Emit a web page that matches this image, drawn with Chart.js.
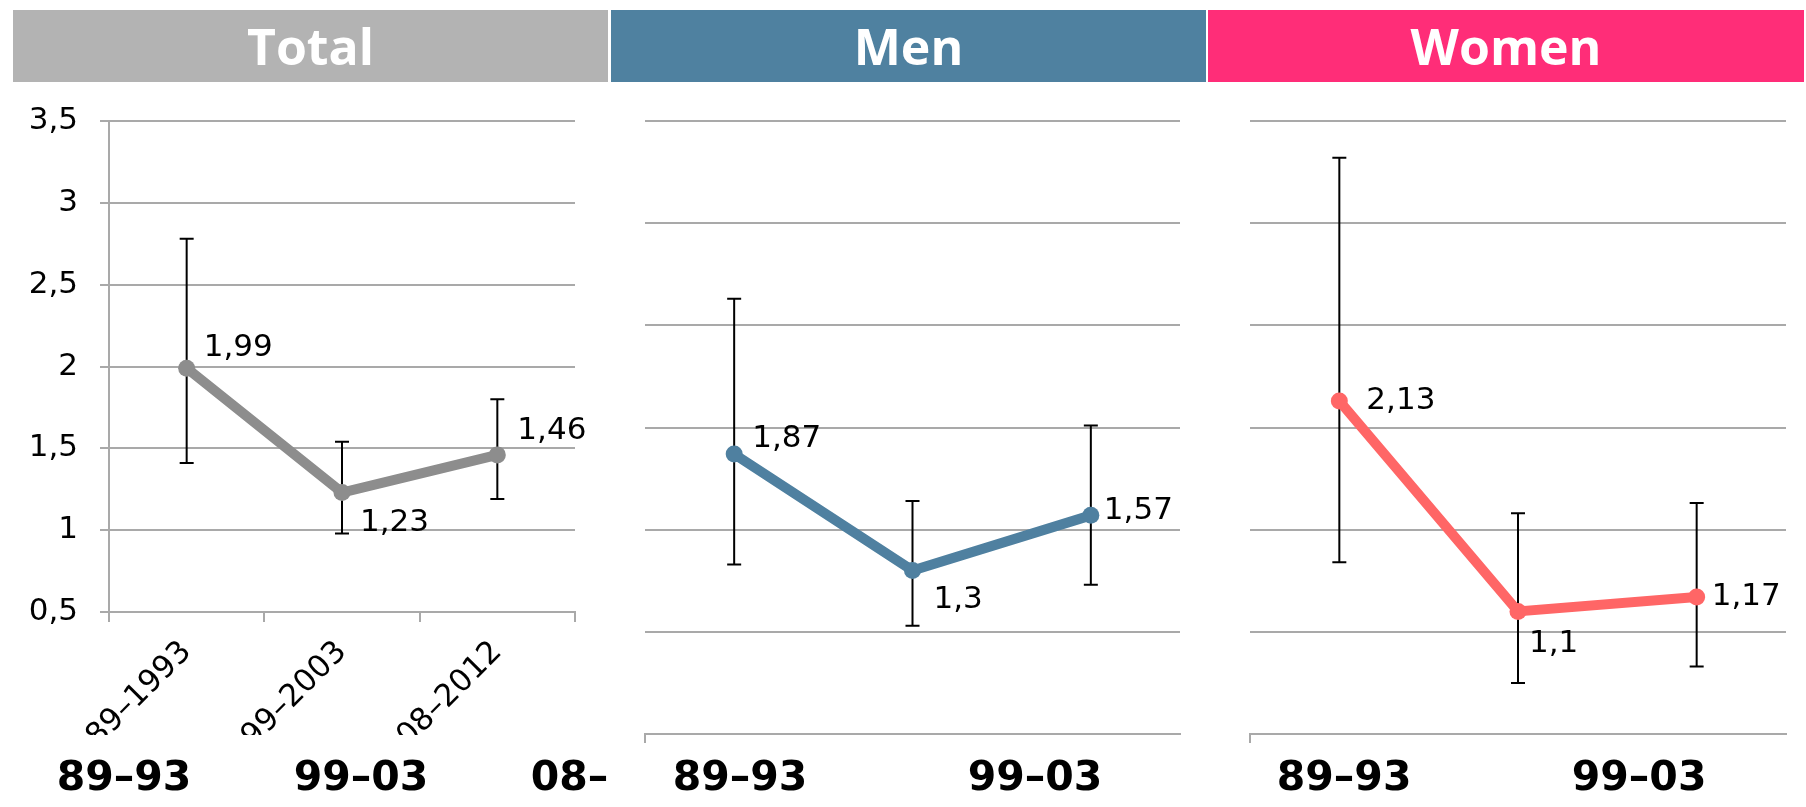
<!DOCTYPE html>
<html>
<head>
<meta charset="utf-8">
<script src="https://cdn.jsdelivr.net/npm/chart.js@4.4.1/dist/chart.umd.min.js"></script>
<style>
    body { margin: 0; width: 1806px; height: 807px; position: relative; overflow: hidden; background: #fff; }
    .panel { position: absolute; top: 0; height: 807px; overflow: hidden; }
    .panel canvas { display: block; }
    .head {
        position: absolute; top: 10px; height: 72px; line-height: 72px;
        color: #fff; text-align: center;
        font-family: "Open Sans", sans-serif; font-weight: 700; font-size: 50px;
    }
</style>
</head>
<body>
<div class="panel" style="left:0;width:609px"><canvas id="chartTotal" width="609" height="807"></canvas></div>
<div class="panel" style="left:609px;width:597px"><canvas id="chartMen" width="597" height="807"></canvas></div>
<div class="panel" style="left:1206px;width:600px"><canvas id="chartWomen" width="600" height="807"></canvas></div>

<div class="head" style="left:13px;width:595px;background:#b3b3b3">Total</div>
<div class="head" style="left:611px;width:595px;background:#4f81a0">Men</div>
<div class="head" style="left:1208px;width:596px;background:#ff2d78">Women</div>

<script>
// 期間（類別）
const periods = ['1989–1993', '1999–2003', '2008–2012'];
const shortPeriods = ['89–93', '99–03', '08–12'];

// 數值與誤差範圍
const totalValues = [1.99, 1.23, 1.46];
const totalLow = [1.41, 0.98, 1.19];
const totalHigh = [2.78, 1.54, 1.80];

const menValues = [1.87, 1.3, 1.57];
const menLow = [1.33, 1.03, 1.23];
const menHigh = [2.63, 1.64, 2.01];

const womenValues = [2.13, 1.1, 1.17];
const womenLow = [1.34, 0.75, 0.83];
const womenHigh = [3.32, 1.58, 1.63];

// y 軸範圍
const yMin = 0.5;
const yMax = 3.5;
const yStep = 0.5;

const FONT = '"DejaVu Sans", sans-serif';
const GRID = '#a9a9a9';

const fmt = v => String(v).replace('.', ',');

// 誤差線（畫在線條下方）
const errorBars = {
    id: 'errorBars',
    beforeDatasetsDraw(chart) {
        const ds = chart.data.datasets[0];
        const meta = chart.getDatasetMeta(0);
        const y = chart.scales.y;
        const ctx = chart.ctx;
        ctx.save();
        ctx.strokeStyle = '#000';
        ctx.lineWidth = 2;
        meta.data.forEach((pt, i) => {
            const top = y.getPixelForValue(ds.errHigh[i]);
            const bot = y.getPixelForValue(ds.errLow[i]);
            ctx.beginPath();
            ctx.moveTo(pt.x, top);
            ctx.lineTo(pt.x, bot);
            ctx.moveTo(pt.x - 7, top);
            ctx.lineTo(pt.x + 7, top);
            ctx.moveTo(pt.x - 7, bot);
            ctx.lineTo(pt.x + 7, bot);
            ctx.stroke();
        });
        ctx.restore();
    }
};

// 資料標籤
const pointLabels = {
    id: 'pointLabels',
    afterDatasetsDraw(chart, args, opts) {
        const ds = chart.data.datasets[0];
        const meta = chart.getDatasetMeta(0);
        const ctx = chart.ctx;
        ctx.save();
        ctx.fillStyle = '#000';
        ctx.font = '31px ' + FONT;
        ctx.textAlign = 'left';
        ctx.textBaseline = 'middle';
        meta.data.forEach((pt, i) => {
            const [dx, dy] = opts.offsets[i];
            ctx.fillText(fmt(ds.data[i]), pt.x + dx, pt.y + dy);
        });
        ctx.restore();
    }
};

/**
 * 建立一個面板圖表
 * @param {string} id - canvas id
 * @param {Object} p - 面板設定
 */
function createPanel(id, p) {
    const canvas = document.getElementById(id);
    const noPad = s => { s.paddingLeft = 0; s.paddingRight = 0; };
    // 沒有 y 軸標籤的面板只保留最左邊的刻度線
    const tickColor = c => (p.yLabels || c.index === 0) ? GRID : 'rgba(0,0,0,0)';

    return new Chart(canvas, {
        type: 'line',
        data: {
            labels: periods,
            datasets: [{
                data: p.values,
                errLow: p.low,
                errHigh: p.high,
                borderColor: p.color,
                backgroundColor: p.color,
                borderWidth: 10,
                pointRadius: 8.5,
                pointHoverRadius: 8.5,
                pointBorderWidth: 0,
                tension: 0
            }]
        },
        options: {
            responsive: false,
            animation: false,
            events: [],
            layout: { padding: { top: 121, right: p.padRight, left: 0, bottom: 0 } },
            plugins: {
                legend: { display: false },
                tooltip: { enabled: false },
                pointLabels: { offsets: p.offsets }
            },
            scales: {
                x: {
                    type: 'category',
                    offset: true,
                    grid: { offset: true, drawOnChartArea: false, color: tickColor, lineWidth: 2, tickLength: p.xTick },
                    border: { color: GRID, width: 2 },
                    ticks: {
                        display: p.rotated,
                        autoSkip: false,
                        minRotation: 45,
                        maxRotation: 45,
                        padding: 12,
                        color: '#000',
                        font: { family: FONT, size: 31 }
                    },
                    afterFit: s => { s.height = p.xHeight; noPad(s); }
                },
                x2: {
                    type: 'linear',
                    position: 'bottom',
                    weight: 1,
                    bounds: 'data',
                    min: p.x2Min,
                    max: p.x2Max,
                    grid: { display: false },
                    border: { display: false },
                    afterBuildTicks: s => { s.ticks = shortPeriods.map((_, i) => ({ value: i })); },
                    ticks: {
                        autoSkip: false,
                        maxRotation: 0,
                        padding: 12,
                        color: '#000',
                        font: { family: FONT, size: 41, weight: 'bold' },
                        callback: v => shortPeriods[v]
                    },
                    afterFit: s => { s.height = 807 - 735; noPad(s); }
                },
                y: {
                    min: yMin,
                    max: yMax,
                    grid: { color: GRID, lineWidth: 2, tickLength: 9, drawTicks: p.yLabels },
                    border: { display: p.yLabels, color: GRID, width: 2 },
                    ticks: {
                        display: p.yLabels,
                        stepSize: yStep,
                        padding: 22,
                        color: '#000',
                        font: { family: FONT, size: 31 },
                        callback: v => fmt(v)
                    },
                    afterFit: s => { s.width = p.yWidth; s.paddingTop = 0; s.paddingBottom = 0; }
                }
            }
        },
        plugins: [errorBars, pointLabels]
    });
}

// Total：繪圖區 x 109–575, y 121–612
createPanel('chartTotal', {
    values: totalValues, low: totalLow, high: totalHigh,
    color: '#8d8d8d',
    rotated: true, yLabels: true,
    yWidth: 109, padRight: 34,
    xHeight: 735 - 612, xTick: 10,
    x2Min: -0.063, x2Max: -0.063 + 466 / 237,
    offsets: [[17, -20], [18, 30], [20, -24]]
});

// Men：繪圖區 x 645–1180, y 121–734
createPanel('chartMen', {
    values: menValues, low: menLow, high: menHigh,
    color: '#4f80a0',
    rotated: false, yLabels: false,
    yWidth: 645 - 609, padRight: 597 - (1180 - 609),
    xHeight: 1, xTick: 9,
    x2Min: -0.322, x2Max: -0.322 + 535 / 295,
    offsets: [[18, -15], [21, 29], [13, -4]]
});

// Women：繪圖區 x 1250–1786, y 121–734
createPanel('chartWomen', {
    values: womenValues, low: womenLow, high: womenHigh,
    color: '#ff6666',
    rotated: false, yLabels: false,
    yWidth: 1250 - 1206, padRight: 600 - (1786 - 1206),
    xHeight: 1, xTick: 9,
    x2Min: -0.319, x2Max: -0.319 + 536 / 295,
    offsets: [[27, 0], [11, 33], [15, 0]]
});
</script>
</body>
</html>
